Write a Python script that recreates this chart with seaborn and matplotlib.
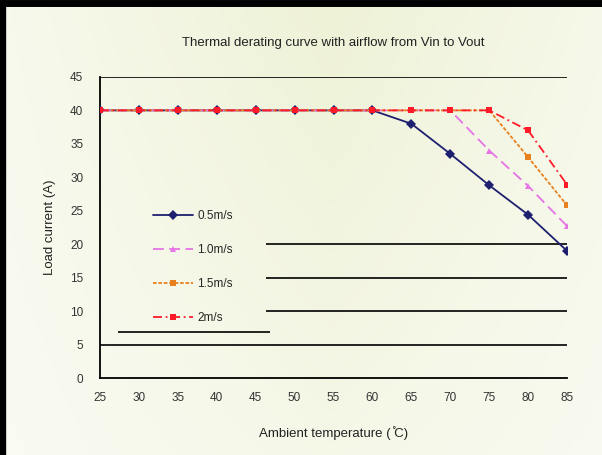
import matplotlib
matplotlib.use("Agg")
import matplotlib.pyplot as plt
from matplotlib.colors import LinearSegmentedColormap
import seaborn as sns
import pandas as pd
import numpy as np

# data
temps = [25, 30, 35, 40, 45, 50, 55, 60, 65, 70, 75, 80, 85]
load_05 = [40, 40, 40, 40, 40, 40, 40, 40, 38, 33.5, 28.8, 24.4, 19]
load_10 = [40, 40, 40, 40, 40, 40, 40, 40, 40, 40, 34, 28.7, 22.7]
load_15 = [40, 40, 40, 40, 40, 40, 40, 40, 40, 40, 40, 33, 25.8]
load_20 = [40, 40, 40, 40, 40, 40, 40, 40, 40, 40, 40, 37, 28.9]
series_names = ["0.5m/s", "1.0m/s", "1.5m/s", "2m/s"]
x_ticks = [25, 30, 35, 40, 45, 50, 55, 60, 65, 70, 75, 80, 85]
y_ticks = [0, 5, 10, 15, 20, 25, 30, 35, 40, 45]

df = pd.DataFrame({"temp": temps * 4,
                   "load": load_05 + load_10 + load_15 + load_20,
                   "airflow": sum([[n] * len(temps) for n in series_names], [])})

sns.set_style("white")
plt.rcParams["font.family"] = ["Liberation Sans", "DejaVu Sans"]

fig = plt.figure(figsize=(6.02, 4.55), dpi=100, facecolor="#f6f8ec")

# pale yellow-green gradient background
bg = fig.add_axes([0, 0, 1, 1], zorder=-10)
gx, gy = np.meshgrid(np.linspace(0, 1, 200), np.linspace(0, 1, 200))
shade = np.clip(1 - np.abs(gx - 0.55) * 1.3, 0, 1) * (0.45 + 0.55 * gy)
cmap = LinearSegmentedColormap.from_list("bgc", ["#fbfcf6", "#eef2d6"])
bg.imshow(shade, cmap=cmap, vmin=0, vmax=1, aspect="auto", extent=[0, 1, 0, 1], origin="lower")
# black frame on left and top
bg.plot([0.004, 0.004], [0, 1], color="black", lw=6, solid_capstyle="butt")
bg.plot([0, 1], [0.993, 0.993], color="black", lw=5, solid_capstyle="butt")
bg.set_xlim(0, 1)
bg.set_ylim(0, 1)
bg.axis("off")

ax = fig.add_axes([0.166, 0.169, 0.776, 0.662])
ax.set_facecolor("none")

# partial gridlines as they appear in the picture
ax.hlines([45, 5], 25, 85, color="black", lw=1.2, zorder=1)
ax.hlines([20, 15, 10], 46.3, 85, color="black", lw=1.2, zorder=1)
ax.hlines([6.9], 27.3, 46.8, color="black", lw=1.2, zorder=1)

palette = {"0.5m/s": "#1f1f70", "1.0m/s": "#e674e6", "1.5m/s": "#e8801e", "2m/s": "#ff1a2a"}
markers = {"0.5m/s": "D", "1.0m/s": "^", "1.5m/s": "s", "2m/s": "s"}
dashes = {"0.5m/s": "", "1.0m/s": (6, 3), "1.5m/s": (2, 1), "2m/s": (5, 2, 1, 2)}

sns.lineplot(data=df, x="temp", y="load", hue="airflow", style="airflow",
             palette=palette, markers=markers, dashes=dashes,
             markersize=5, markeredgewidth=0, lw=1.3, ax=ax, zorder=3)

ax.set_xlim(25, 85)
ax.set_ylim(0, 45)
ax.set_xticks(x_ticks)
ax.set_yticks(y_ticks)
ax.tick_params(axis="x", direction="in", length=4, width=1, labelsize=8.5, pad=10,
               labelcolor="#333333")
ax.tick_params(axis="y", length=0, labelsize=8.5, pad=12, labelcolor="#333333")
for s in ["top", "right"]:
    ax.spines[s].set_visible(False)
for s in ["left", "bottom"]:
    ax.spines[s].set_color("black")
    ax.spines[s].set_linewidth(1.3)

ax.set_title("Thermal derating curve with airflow from Vin to Vout", fontsize=9.5, pad=22, color="#222222")
ax.set_xlabel("Ambient temperature ( ̊C)", fontsize=9.5, labelpad=16, color="#222222")
ax.set_ylabel("Load current (A)", fontsize=9.5, labelpad=10, color="#222222")

leg = ax.legend(title=None, loc="upper left", bbox_to_anchor=(0.09, 0.592), frameon=False,
                fontsize=8.5, labelspacing=1.85, handlelength=3.4, handletextpad=0.4)

fig.savefig("out.png", dpi=100, facecolor=fig.get_facecolor())
